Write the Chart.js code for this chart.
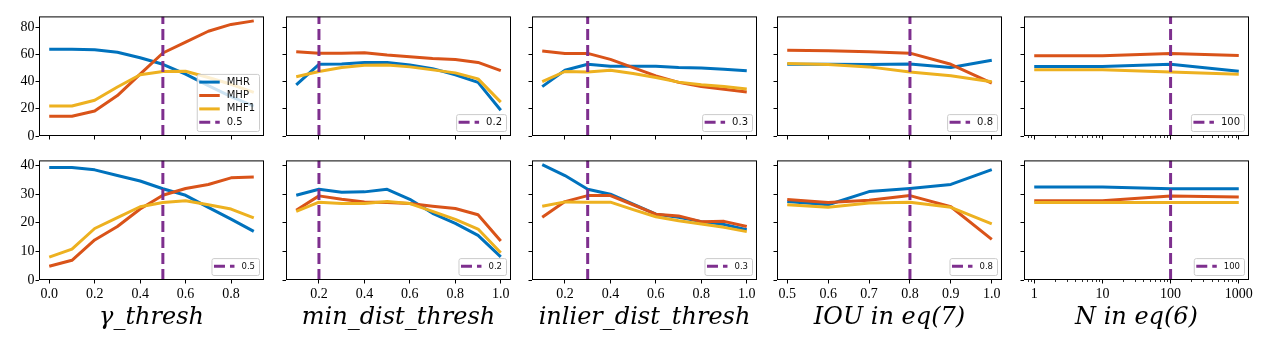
<!DOCTYPE html>
<html>
<head>
<meta charset="utf-8">
<script src="https://cdn.jsdelivr.net/npm/chart.js@4.4.0/dist/chart.umd.min.js"></script>
<style>
  body { margin: 0; background: #fff; }
  #wrap { position: relative; width: 1270px; height: 350px; overflow: hidden; }
  #wrap canvas { position: absolute; }
</style>
</head>
<body>
<div id="wrap"></div>
<script>
// series names / colours
const seriesNames = ['MHR', 'MHP', 'MHF1'];
const seriesColors = ['#0072bd', '#d95319', '#edb120'];
const markColor = '#7e2f8e';

// x values of each column
const xGamma = [0.0, 0.1, 0.2, 0.3, 0.4, 0.5, 0.6, 0.7, 0.8, 0.9];
const xMinDist = [0.1, 0.2, 0.3, 0.4, 0.5, 0.6, 0.7, 0.8, 0.9, 1.0];
const xInlier = [0.1, 0.2, 0.3, 0.4, 0.5, 0.6, 0.7, 0.8, 0.9, 1.0];
const xIou = [0.5, 0.6, 0.7, 0.8, 0.9, 1.0];
const xN = [1, 10, 100, 1000];

// chosen value (dashed line) per column
const chosenValues = [0.5, 0.2, 0.3, 0.8, 100];
const xTitles = ['γ_thresh', 'min_dist_thresh', 'inlier_dist_thresh', 'IOU in eq(7)', 'N in eq(6)'];

// tick labels
const yTicksTop = [0, 20, 40, 60, 80];
const yTicksBottom = [0, 10, 20, 30, 40];
const xTicksGamma = [0.0, 0.2, 0.4, 0.6, 0.8];
const xTicksDist = [0.2, 0.4, 0.6, 0.8, 1.0];
const xTicksIou = [0.5, 0.6, 0.7, 0.8, 0.9, 1.0];
const xTicksN = [1, 10, 100, 1000];

// gamma_thresh
const gammaMhrTop = [63.8, 63.8, 63.4, 61.6, 57.5, 52.7, 45.5, 37, 29, 22];
const gammaMhpTop = [14.5, 14.5, 18.4, 29.7, 45.5, 61, 69, 77, 82, 84.6];
const gammaMhf1Top = [22, 22, 26.3, 36, 45, 47.4, 47.6, 43, 38, 32];
const gammaMhrBot = [39.3, 39.3, 38.5, 36.5, 34.6, 31.9, 29.6, 25.4, 21.3, 17];
const gammaMhpBot = [4.8, 6.9, 14, 18.7, 24.8, 29.6, 32, 33.4, 35.7, 36];
const gammaMhf1Bot = [8, 10.8, 18, 21.8, 25.6, 27.1, 27.7, 26.3, 24.8, 21.7];

// min_dist_thresh
const distMhrTop = [37.5, 52.7, 53, 54, 54, 52.2, 49.5, 45, 39.4, 18.9];
const distMhpTop = [61.9, 60.9, 60.9, 61.2, 59.5, 58.3, 57, 56.3, 54.1, 48];
const distMhf1Top = [43.5, 47.4, 50.3, 52, 52.2, 50.8, 48.6, 46.4, 42, 24.9];
const distMhrBot = [29.6, 31.7, 30.7, 30.8, 31.7, 28.2, 23.3, 19.8, 15.6, 8.1];
const distMhpBot = [24.4, 29.4, 28.2, 27.3, 27.1, 26.7, 25.8, 25, 22.8, 13.6];
const distMhf1Bot = [24, 27.2, 26.7, 26.7, 27.4, 26.7, 24, 21.2, 17.8, 9.5];

// inlier_dist_thresh
const inlierMhrTop = [36.3, 48.3, 52.7, 51.2, 51.2, 51.2, 50.3, 50, 49, 47.9];
const inlierMhpTop = [62.4, 60.7, 60.7, 56.3, 50.3, 44.2, 39.4, 36.3, 34.3, 32.4];
const inlierMhf1Top = [39.9, 47.4, 47.1, 48.3, 45.9, 43, 39.6, 37.7, 36.3, 34.6];
const inlierMhrBot = [40.3, 36.5, 31.7, 30, 26.5, 23, 21.9, 20.4, 19.4, 17.6];
const inlierMhpBot = [21.9, 27.4, 29.5, 29.5, 26.3, 23, 22.4, 20.4, 20.5, 18.7];
const inlierMhf1Bot = [25.8, 27.3, 27.2, 27.2, 24.6, 22.1, 20.7, 19.6, 18.4, 16.9];

// IOU
const iouMhrTop = [52.7, 52.7, 52.5, 53, 50.3, 55.6];
const iouMhpTop = [63.1, 62.6, 61.9, 60.9, 52.7, 38.9];
const iouMhf1Top = [53.2, 52.5, 50.8, 47.1, 44.2, 39.9];
const iouMhrBot = [27.4, 26.3, 30.9, 32, 33.4, 38.6];
const iouMhpBot = [28.1, 27.1, 27.9, 29.5, 25.6, 14.2];
const iouMhf1Bot = [26.3, 25.4, 26.9, 27.2, 25.4, 19.6];

// N
const nMhrTop = [51, 51, 52.7, 47.6];
const nMhpTop = [59, 59, 60.7, 59.2];
const nMhf1Top = [48.6, 48.6, 47.1, 45.4];
const nMhrBot = [32.5, 32.5, 31.9, 31.9];
const nMhpBot = [27.7, 27.7, 29.4, 29];
const nMhf1Bot = [27.1, 27.1, 27.1, 27.1];

const yMaxTop = 87.9;
const yMaxBottom = 41.8;

const panels = [
  { x: xGamma, ticks: xTicksGamma, min: -0.045, max: 0.945, log: false,
    top: [gammaMhrTop, gammaMhpTop, gammaMhf1Top], bottom: [gammaMhrBot, gammaMhpBot, gammaMhf1Bot] },
  { x: xMinDist, ticks: xTicksDist, min: 0.055, max: 1.045, log: false,
    top: [distMhrTop, distMhpTop, distMhf1Top], bottom: [distMhrBot, distMhpBot, distMhf1Bot] },
  { x: xInlier, ticks: xTicksDist, min: 0.055, max: 1.045, log: false,
    top: [inlierMhrTop, inlierMhpTop, inlierMhf1Top], bottom: [inlierMhrBot, inlierMhpBot, inlierMhf1Bot] },
  { x: xIou, ticks: xTicksIou, min: 0.475, max: 1.025, log: false,
    top: [iouMhrTop, iouMhpTop, iouMhf1Top], bottom: [iouMhrBot, iouMhpBot, iouMhf1Bot] },
  { x: xN, ticks: xTicksN, min: Math.pow(10, -0.15), max: Math.pow(10, 3.15), log: true,
    top: [nMhrTop, nMhpTop, nMhf1Top], bottom: [nMhrBot, nMhpBot, nMhf1Bot] }
];

// layout
const colLeft = [0, 247, 493, 738, 985];
const plotW = 225, plotH = 121, yAxisW = 39, padTop = 8, padRight = 8;
const tickFont = { family: 'Liberation Serif', size: 14 };

// box around the plot area
const framePlugin = {
  id: 'frame',
  afterDatasetsDraw(chart) {
    const { ctx, chartArea: a } = chart;
    ctx.save();
    ctx.strokeStyle = '#000';
    ctx.lineWidth = 1;
    ctx.strokeRect(a.left + 0.5, a.top + 0.5, a.right - a.left - 1, a.bottom - a.top - 1);
    // minor ticks for log axis
    const xs = chart.scales.x;
    if (xs.type === 'logarithmic') {
      ctx.lineWidth = 0.8;
      ctx.beginPath();
      for (let d = -1; d <= 3; d++) {
        for (let m = 2; m <= 9; m++) {
          const v = m * Math.pow(10, d);
          if (v < xs.min || v > xs.max) continue;
          const px = Math.round(xs.getPixelForValue(v)) + 0.5;
          ctx.moveTo(px, a.bottom);
          ctx.lineTo(px, a.bottom + 2);
        }
      }
      ctx.stroke();
    }
    ctx.restore();
  }
};

// matplotlib-like legend in the lower right corner
const legendPlugin = {
  id: 'boxLegend',
  afterDraw(chart, args, opts) {
    const { ctx, chartArea: a } = chart;
    const items = chart.data.datasets.filter(d => opts.full || d.isMark);
    ctx.save();
    ctx.font = opts.size + 'px "DejaVu Sans"';
    const textW = Math.max(...items.map(d => ctx.measureText(d.label).width));
    const rowH = 13.4;
    const w = 30 + textW + 4;
    const h = items.length * rowH + 3.5;
    const left = a.right - 5 - w;
    const top = a.bottom - 5 - h;
    ctx.beginPath();
    if (ctx.roundRect) ctx.roundRect(left + 0.5, top + 0.5, w, h, 2);
    else ctx.rect(left + 0.5, top + 0.5, w, h);
    ctx.fillStyle = 'rgba(255,255,255,0.8)';
    ctx.fill();
    ctx.strokeStyle = '#cccccc';
    ctx.lineWidth = 1;
    ctx.stroke();
    items.forEach((d, i) => {
      const cy = top + 1.5 + rowH * (i + 0.5);
      ctx.beginPath();
      ctx.strokeStyle = d.borderColor;
      ctx.lineWidth = d.borderWidth;
      ctx.setLineDash(d.borderDash || []);
      ctx.moveTo(left + 2.5, cy);
      ctx.lineTo(left + 23, cy);
      ctx.stroke();
      ctx.setLineDash([]);
      ctx.fillStyle = '#111';
      ctx.textBaseline = 'middle';
      ctx.textAlign = 'left';
      ctx.fillText(d.label, left + 30, cy);
    });
    ctx.restore();
  }
};

function makePoints(xs, ys) {
  return xs.map((x, i) => ({ x: x, y: ys[i] }));
}

const wrap = document.getElementById('wrap');

function buildChart(panel, col, row) {
  const isTop = row === 0;
  const axisH = isTop ? 10 : 70;
  const W = yAxisW + plotW + padRight;
  const H = padTop + plotH + axisH;
  const canvas = document.createElement('canvas');
  canvas.width = W;
  canvas.height = H;
  canvas.style.width = W + 'px';
  canvas.style.height = H + 'px';
  canvas.style.left = colLeft[col] + 'px';
  canvas.style.top = (isTop ? 7 : 151) + 'px';
  wrap.appendChild(canvas);

  const series = isTop ? panel.top : panel.bottom;
  const yMax = isTop ? yMaxTop : yMaxBottom;
  const yTicks = isTop ? yTicksTop : yTicksBottom;
  const mark = chosenValues[col];

  const datasets = series.map((ys, k) => ({
    label: seriesNames[k],
    data: makePoints(panel.x, ys),
    borderColor: seriesColors[k],
    borderWidth: 3,
    borderJoinStyle: 'round',
    pointRadius: 0,
    order: 3 - k
  }));
  datasets.push({
    label: String(mark),
    data: [{ x: mark, y: 0 }, { x: mark, y: yMax }],
    borderColor: markColor,
    borderWidth: 3,
    borderDash: [11, 5],
    pointRadius: 0,
    order: 0,
    isMark: true
  });

  new Chart(canvas.getContext('2d'), {
    type: 'line',
    data: { datasets: datasets },
    options: {
      responsive: false,
      animation: false,
      devicePixelRatio: 1,
      events: [],
      layout: { padding: { left: 0, top: padTop, right: padRight, bottom: 0 } },
      plugins: {
        legend: { display: false },
        tooltip: { enabled: false },
        boxLegend: { full: isTop && col === 0, size: isTop ? 10 : 8.5 }
      },
      scales: {
        x: {
          type: panel.log ? 'logarithmic' : 'linear',
          min: panel.min,
          max: panel.max,
          bounds: 'data',
          afterBuildTicks: s => { s.ticks = panel.ticks.map(v => ({ value: v })); },
          afterFit: s => { s.height = axisH; },
          grid: { drawOnChartArea: false, tickLength: 3.5, color: '#000', lineWidth: 1 },
          border: { display: false },
          ticks: {
            font: tickFont, color: '#000', padding: 2, maxRotation: 0, autoSkip: false,
            callback: v => isTop ? '' : (panel.log ? String(v) : Number(v).toFixed(1))
          },
          title: {
            display: !isTop,
            text: xTitles[col],
            color: '#000',
            font: { family: 'DejaVu Serif', style: 'italic', size: 24 },
            padding: { top: 0, bottom: 18 }
          }
        },
        y: {
          min: 0,
          max: yMax,
          bounds: 'data',
          afterBuildTicks: s => { s.ticks = yTicks.map(v => ({ value: v })); },
          afterFit: s => { s.width = yAxisW; },
          grid: { drawOnChartArea: false, tickLength: 3.5, color: '#000', lineWidth: 1 },
          border: { display: false },
          ticks: {
            font: tickFont, color: '#000', padding: 1,
            callback: v => col === 0 ? String(v) : ''
          }
        }
      }
    },
    plugins: [framePlugin, legendPlugin]
  });
}

panels.forEach((p, col) => {
  buildChart(p, col, 0);
  buildChart(p, col, 1);
});
</script>
</body>
</html>
